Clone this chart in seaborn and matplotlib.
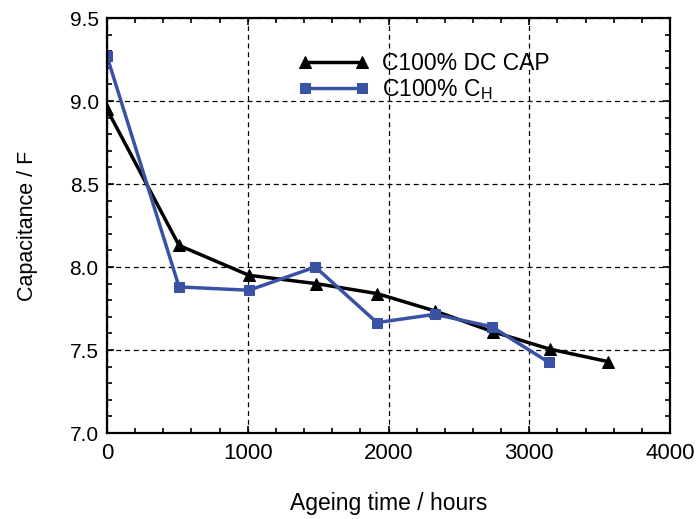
import matplotlib
matplotlib.use("Agg")
import matplotlib.pyplot as plt
from matplotlib.ticker import MultipleLocator, FormatStrFormatter
from matplotlib import font_manager
import seaborn as sns
import pandas as pd

# Capacitance measured during ageing
hours_dc = [0, 512, 1009, 1485, 1918, 2330, 2742, 3147, 3560]
cap_dc = [8.95, 8.13, 7.95, 7.90, 7.84, 7.735, 7.61, 7.505, 7.43]
hours_ch = [0, 512, 1009, 1480, 1918, 2330, 2735, 3140]
cap_ch = [9.27, 7.88, 7.86, 8.00, 7.665, 7.715, 7.64, 7.425]
labels = ["C100% DC CAP", r"C100% C$_\mathregular{H}$"]

sns.set_theme(style="ticks")
names = {f.name for f in font_manager.fontManager.ttflist}
narrow = "Liberation Sans Narrow" if "Liberation Sans Narrow" in names else "Liberation Sans"
plt.rcParams["font.family"] = ["Liberation Sans", "DejaVu Sans"]
plt.rcParams["mathtext.fontset"] = "custom"
plt.rcParams["mathtext.rm"] = "Liberation Sans"
plt.rcParams["text.color"] = "black"
plt.rcParams["axes.labelcolor"] = "black"

fig = plt.figure(figsize=(6.97, 5.19), dpi=100)
ax = fig.add_axes([0.1535, 0.1657, 0.8078, 0.7996])

df_dc = pd.DataFrame({"t": hours_dc, "c": cap_dc})
df_ch = pd.DataFrame({"t": hours_ch, "c": cap_ch})
sns.lineplot(data=df_dc, x="t", y="c", ax=ax, color="black", lw=2.5,
             marker="^", markersize=8, markeredgecolor="black", label=labels[0])
sns.lineplot(data=df_ch, x="t", y="c", ax=ax, color="#3a52a4", lw=2.5,
             marker="s", markersize=6.5, markeredgecolor="#3a52a4", label=labels[1])

ax.set_xlim(0, 4000)
ax.set_ylim(7.0, 9.5)
ax.xaxis.set_major_locator(MultipleLocator(1000))
ax.xaxis.set_minor_locator(MultipleLocator(200))
ax.yaxis.set_major_locator(MultipleLocator(0.5))
ax.yaxis.set_minor_locator(MultipleLocator(0.1))
ax.yaxis.set_major_formatter(FormatStrFormatter("%.1f"))

ax.grid(True, which="major", color="black", ls=(0, (4, 3)), lw=0.9)
for s in ax.spines.values():
    s.set_linewidth(1.6)
    s.set_color("black")
ax.tick_params(which="both", direction="in", top=True, right=True, color="black", width=1.2)
ax.tick_params(which="major", length=5)
ax.tick_params(which="minor", length=3.5)
ax.tick_params(axis="y", labelsize=15, pad=6, labelcolor="black")
ax.tick_params(axis="x", labelsize=16, pad=7, labelcolor="black")
for t in ax.get_xticklabels():
    t.set_fontfamily(narrow)

ax.set_xlabel("Ageing time / hours", fontsize=16.5, fontfamily=narrow, labelpad=20)
ax.set_ylabel("Capacitance / F", fontsize=15.5, labelpad=23)

leg = ax.legend(loc="upper left", bbox_to_anchor=(0.324, 0.94), frameon=False,
                fontsize=16.5, numpoints=2, handlelength=3.05, handletextpad=0.6,
                labelspacing=0.1, borderaxespad=0)

fig.savefig("out.png", dpi=100)
